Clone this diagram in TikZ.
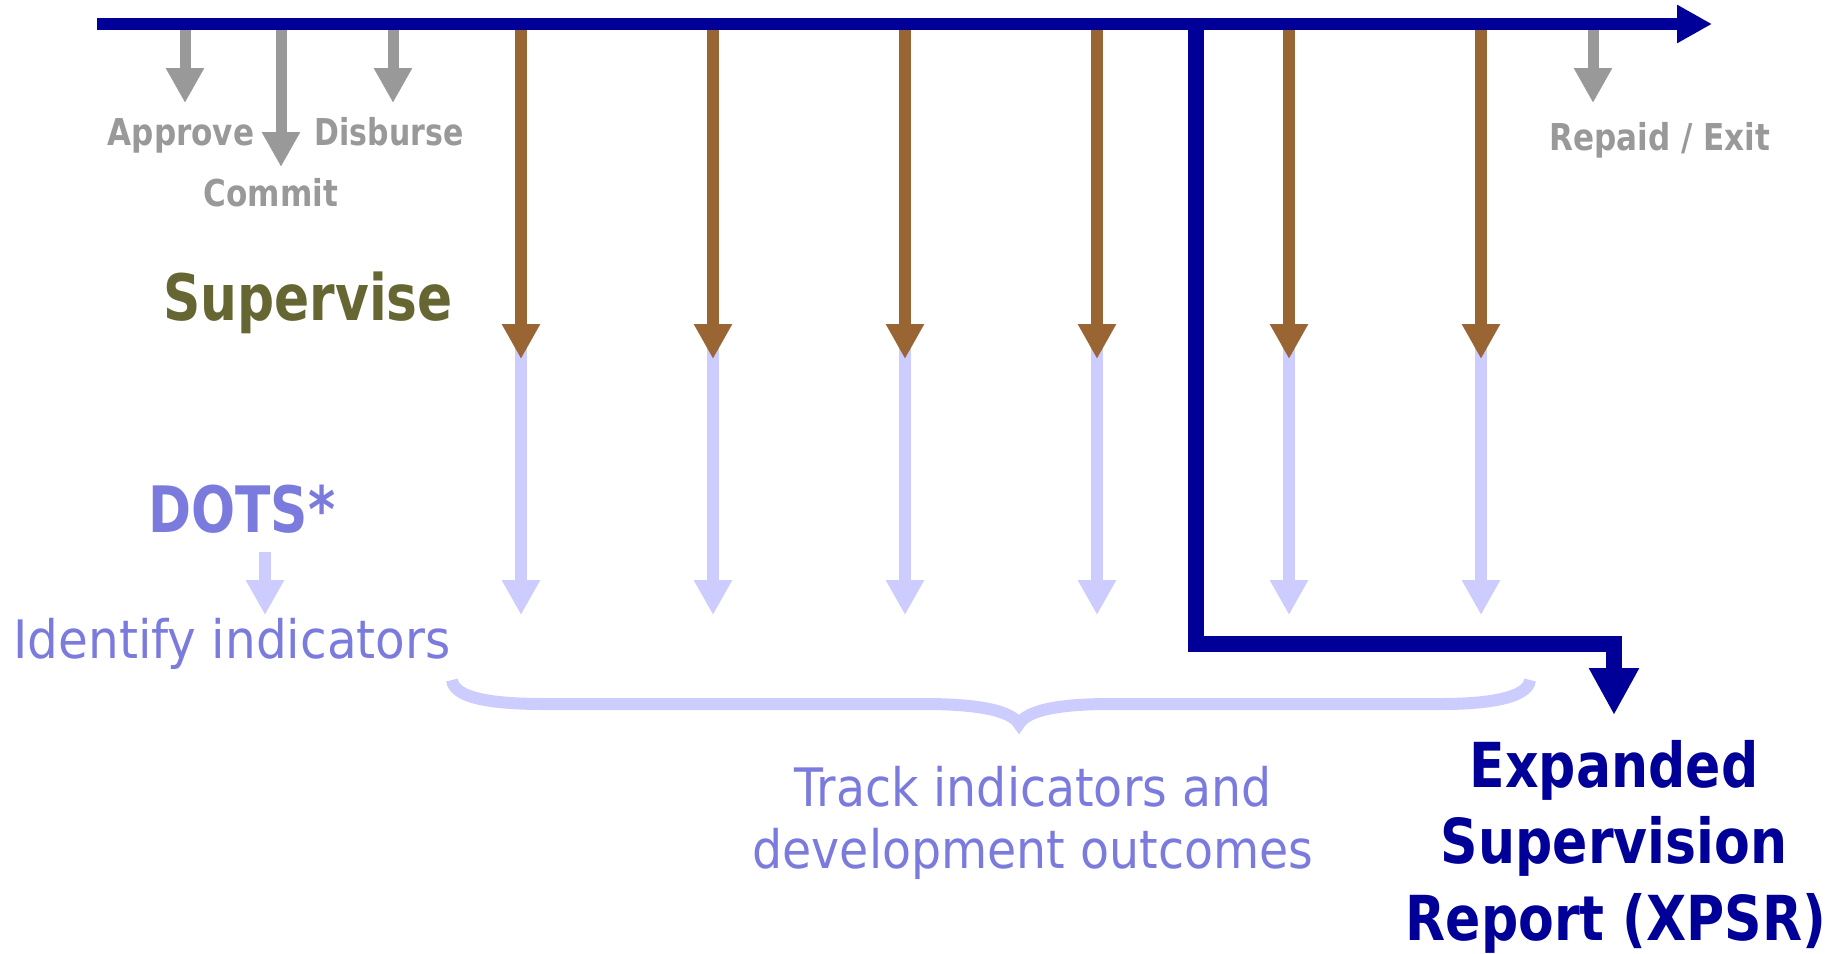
\documentclass[tikz,border=0pt]{standalone}
\usepackage{fontspec}
\usetikzlibrary{arrows.meta}
\newfontfamily\rfont[FakeStretch=0.895]{DejaVu Sans}
\newfontfamily\rfontw[FakeStretch=0.915]{DejaVu Sans}
\newfontfamily\bfont[FakeStretch=0.84]{DejaVu Sans Bold}
\newfontfamily\bfontn[FakeStretch=0.81]{DejaVu Sans Bold}
\definecolor{mainblue}{RGB}{0,0,153}
\definecolor{greyc}{RGB}{153,153,153}
\definecolor{brownc}{RGB}{153,102,51}
\definecolor{lightb}{RGB}{204,204,255}
\definecolor{dotsc}{RGB}{123,123,222}
\definecolor{olive}{RGB}{102,102,51}
\tikzset{
  mainline/.style={draw=mainblue, line width=12pt, -{Triangle[length=35pt,width=36pt]}},
  xpsrline/.style={draw=mainblue, line width=16pt, miter limit=10, -{Triangle[length=47pt,width=47pt]}},
  grarrow/.style={draw=greyc, line width=11pt, -{Triangle[length=35pt,width=36pt]}},
  brarrow/.style={draw=brownc, line width=12pt, -{Triangle[length=35pt,width=36pt]}},
  lbarrow/.style={draw=lightb, line width=12pt, -{Triangle[length=35pt,width=36pt]}},
  bracel/.style={draw=lightb, line width=12pt},
  grtext/.style={anchor=base, inner sep=0pt, text=greyc, font=\bfont\fontsize{37}{44}\selectfont},
  bigtext/.style={anchor=base, inner sep=0pt, font=\bfontn\fontsize{64}{76}\selectfont},
  lbtext/.style={anchor=base, inner sep=0pt, text=dotsc, font=\rfont\fontsize{53}{62}\selectfont},
  xtext/.style={anchor=base, inner sep=0pt, text=mainblue, font=\bfont\fontsize{62}{76}\selectfont},
}
\begin{document}
\begin{tikzpicture}[x=1pt,y=-1pt]
\useasboundingbox (0,0) rectangle (1841,953);
% main timeline
\coordinate (ml) at (97,24);
\coordinate (mr) at (1712,24);
% light blue arrows (behind brown)
\foreach \i/\x in {1/521,2/713,3/905,4/1097,5/1289,6/1481}{
  \coordinate (ls\i) at (\x,340);
  \coordinate (le\i) at (\x,615);
  \draw[lbarrow] (ls\i) -- (le\i);
  \coordinate (bs\i) at (\x,30);
  \coordinate (be\i) at (\x,359);
  \draw[brarrow] (bs\i) -- (be\i);
}
% XPSR path
\coordinate (xs) at (1196,18);
\coordinate (xc1) at (1196,644);
\coordinate (xc2) at (1614,644);
\coordinate (xe) at (1614,715);
\draw[xpsrline] (xs) -- (xc1) -- (xc2) -- (xe);
\draw[mainline] (ml) -- (mr);
% grey milestones
\coordinate (as) at (185,30);  \coordinate (ae) at (185,103);
\coordinate (cs) at (281,30);  \coordinate (ce) at (281,167);
\coordinate (ds) at (393,30);  \coordinate (de) at (393,103);
\coordinate (rs) at (1593,30); \coordinate (re) at (1593,103);
\draw[grarrow] (as) -- (ae);
\draw[grarrow] (cs) -- (ce);
\draw[grarrow] (ds) -- (de);
\draw[grarrow] (rs) -- (re);
\node[grtext] (approve) at (181,145) {Approve};
\node[grtext] (commit) at (271,206) {Commit};
\node[grtext, font=\bfontn\fontsize{37}{44}\selectfont] (disburse) at (389,145) {Disburse};
\node[grtext] (repaid) at (1660,150) {Repaid / Exit};
% left labels
\node[bigtext, text=olive] (supervise) at (308,320) {Supervise};
\node[bigtext, text=dotsc] (dots) at (242,532) {DOTS*};
\coordinate (dss) at (265,552);
\coordinate (dse) at (265,615);
\draw[lbarrow] (dss) -- (dse);
\node[lbtext, font=\rfontw\fontsize{53}{62}\selectfont] (identify) at (232,658) {Identify indicators};
% brace
\coordinate (brl) at (452,680);
\coordinate (brm) at (1019,724);
\coordinate (brr) at (1530,680);
\draw[bracel] (brl) .. controls (454,700) and (500,704) .. (545,704) -- (925,704)
  .. controls (975,704) and (1011,710) .. (brm)
  .. controls (1027,710) and (1060,704) .. (1110,704) -- (1441,704)
  .. controls (1488,704) and (1528,698) .. (brr);
\node[lbtext] (track1) at (1033,806) {Track indicators and};
\node[lbtext] (track2) at (1033,868) {development outcomes};
% XPSR label
\node[xtext] (xp1) at (1614,787) {Expanded};
\node[xtext] (xp2) at (1614,863) {Supervision};
\node[xtext] (xp3) at (1616,940) {Report (XPSR)};
\end{tikzpicture}
\end{document}
